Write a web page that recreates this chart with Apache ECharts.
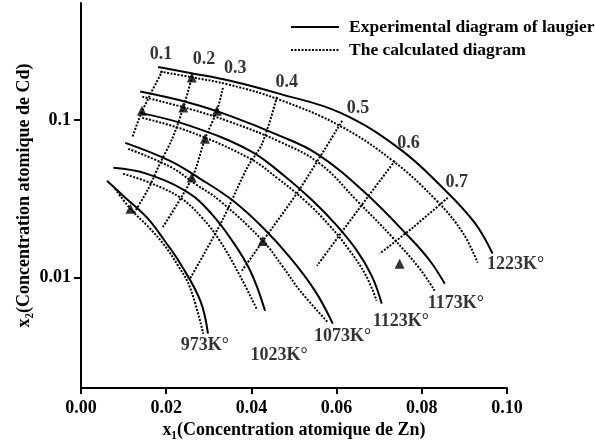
<!DOCTYPE html>
<html><head><meta charset="utf-8">
<script src="https://cdn.jsdelivr.net/npm/echarts@6/dist/echarts.min.js"></script>
<style>html,body{margin:0;padding:0;background:#fff}#c{width:595px;height:446px}</style>
</head><body><div id="c"></div>
<script>
// ---- axis ticks ----
const xTicks = [0, 0.02, 0.04, 0.06, 0.08, 0.10];
const yTicks = [0.01, 0.1];

// ---- isotherms: experimental (solid) curves [x1, x2] ----
const exp973  = [[0.0061,0.0411],[0.0104,0.0321],[0.0155,0.0240],[0.0198,0.0169],[0.0233,0.0123],[0.0280,0.00715],[0.0298,0.00442]];
const exp1023 = [[0.0076,0.0497],[0.0155,0.0455],[0.0256,0.0340],[0.0308,0.0251],[0.0350,0.0179],[0.0397,0.0111],[0.0432,0.00618]];
const exp1073 = [[0.0104,0.0715],[0.0209,0.0550],[0.0280,0.0423],[0.0357,0.0307],[0.0425,0.0210],[0.0491,0.0134],[0.0549,0.00828],[0.0591,0.00512]];
const exp1123 = [[0.0139,0.1107],[0.0256,0.0916],[0.0397,0.0637],[0.0474,0.0449],[0.0544,0.0307],[0.0599,0.0216],[0.0648,0.0148],[0.0683,0.0102],[0.0706,0.00685]];
const exp1173 = [[0.0139,0.151],[0.0256,0.128],[0.0350,0.106],[0.0467,0.0792],[0.0554,0.0609],[0.0662,0.0355],[0.0772,0.0179],[0.0819,0.0128],[0.0854,0.00916]];
const exp1223 = [[0.0181,0.216],[0.0256,0.198],[0.0350,0.177],[0.0467,0.146],[0.0608,0.111],[0.0748,0.0655],[0.0849,0.0371],[0.0924,0.0223],[0.0966,0.0142]];

// ---- isotherms: calculated (dotted) curves ----
const calc973  = [[0.0080,0.0366],[0.0116,0.0273],[0.0158,0.0210],[0.0193,0.0164],[0.0228,0.0119],[0.0256,0.00865],[0.0287,0.00442]];
const calc1023 = [[0.0099,0.0455],[0.0162,0.0399],[0.0233,0.0321],[0.0284,0.0240],[0.0326,0.0171],[0.0373,0.0103],[0.0412,0.00637]];
const calc1073 = [[0.0111,0.0655],[0.0209,0.0505],[0.0268,0.0393],[0.0326,0.0307],[0.0427,0.0171],[0.0474,0.0117],[0.0514,0.00828],[0.0580,0.0052]];
const calc1123 = [[0.0144,0.103],[0.0256,0.084],[0.0397,0.0567],[0.0463,0.0423],[0.0526,0.0307],[0.0584,0.0213],[0.0631,0.0148],[0.0669,0.0103],[0.0694,0.00715]];
const calc1173 = [[0.0144,0.140],[0.0256,0.117],[0.0350,0.0971],[0.0467,0.0726],[0.0561,0.0527],[0.0648,0.0307],[0.0732,0.0179],[0.0795,0.0114],[0.0830,0.00828]];
const calc1223 = [[0.0186,0.202],[0.0256,0.187],[0.0350,0.1665],[0.0467,0.1338],[0.0608,0.0916],[0.0732,0.055],[0.0835,0.0307],[0.0896,0.0193],[0.0931,0.01245]];

// ---- iso-lines 0.1 ... 0.7 (dotted) ----
const iso01 = [[0.0191,0.2042],[0.0144,0.114],[0.0120,0.0769]];
const iso02 = [[0.0263,0.198],[0.0240,0.119],[0.0214,0.0758],[0.0186,0.0534],[0.0158,0.0366],[0.0125,0.0258]];
const iso03 = [[0.0333,0.1594],[0.0319,0.114],[0.0291,0.0758],[0.0261,0.043],[0.0191,0.0207]];
const iso04 = [[0.0460,0.1398],[0.0425,0.0705],[0.0390,0.0497],[0.0331,0.0229],[0.0256,0.00986]];
const iso05 = [[0.0613,0.0986],[0.0514,0.0366],[0.0444,0.0198],[0.0427,0.0171],[0.0378,0.01107]];
const iso06 = [[0.0737,0.055],[0.0654,0.0277],[0.0554,0.0119]];
const iso07 = [[0.0861,0.0321],[0.0781,0.0210],[0.0701,0.0142]];

// ---- measured points (triangles) ----
const points = [[0.0260,0.1852],[0.0240,0.1196],[0.0143,0.114],[0.0319,0.114],[0.0291,0.0758],[0.0260,0.0431],[0.0116,0.0273],[0.0427,0.0171],[0.0748,0.01227]];

// ---- annotation texts and their anchors (data units) ----
const isoNames = ['0.1','0.2','0.3','0.4','0.5','0.6','0.7'];
const isoLabelAt = [[0.0188,0.2617],[0.0289,0.2433],[0.0362,0.2133],[0.0483,0.1738],[0.0650,0.1191],[0.0769,0.0710],[0.0882,0.0399]];
const tempNames = ['973K°','1023K°','1073K°','1123K°','1173K°','1223K°'];
const tempLabelAt = [[0.0291,0.00374],[0.0465,0.00323],[0.0614,0.00426],[0.0751,0.00530],[0.0880,0.00685],[0.1020,0.0121]];

const EXP = 'Experimental diagram of laugier';
const CALC = 'The calculated diagram';

const FONT = '"Liberation Serif","Times New Roman",serif';
const txt = {fontFamily: FONT, fontSize: 18, fontWeight: 'bold', color: '#000'};
const solidStyle = {color: '#000', width: 2, type: 'solid'};
const dotStyle = {color: '#000', width: 2, type: [2, 1.5]};

const series = [];
[calc973, calc1023, calc1073, calc1123, calc1173, calc1223].forEach(d => series.push({
  type: 'line', name: CALC, data: d, symbol: 'none', smooth: 0.4, lineStyle: dotStyle, itemStyle: {color: '#000'}, silent: true, z: 2
}));
[iso01, iso02, iso03, iso04, iso05, iso06, iso07].forEach(d => series.push({
  type: 'line', name: CALC, data: d, symbol: 'none', smooth: 0.3, lineStyle: dotStyle, itemStyle: {color: '#000'}, silent: true, z: 2
}));
[exp973, exp1023, exp1073, exp1123, exp1173, exp1223].forEach(d => series.push({
  type: 'line', name: EXP, data: d, symbol: 'none', smooth: 0.4, lineStyle: solidStyle, itemStyle: {color: '#000'}, silent: true, z: 3
}));
series.push({
  type: 'scatter', name: 'points', data: points, symbol: 'triangle', symbolSize: 10,
  itemStyle: {color: '#000'}, silent: true, z: 4
});
series.push({
  type: 'scatter', name: 'isoLabels', clip: false, symbolSize: 1, itemStyle: {color: 'rgba(0,0,0,0)'},
  data: isoLabelAt.map((p, i) => ({value: p, name: isoNames[i]})),
  label: Object.assign({show: true, position: 'inside', formatter: '{b}'}, txt), silent: true, z: 5
});
series.push({
  type: 'scatter', name: 'tempLabels', clip: false, symbolSize: 1, itemStyle: {color: 'rgba(0,0,0,0)'},
  data: tempLabelAt.map((p, i) => ({value: p, name: tempNames[i]})),
  label: Object.assign({show: true, position: 'inside', formatter: '{b}'}, txt), silent: true, z: 5
});

const chart = echarts.init(document.getElementById('c'));
chart.setOption({
  animation: false,
  backgroundColor: '#fff',
  grid: {left: 81, right: 88, top: 3, bottom: 58, containLabel: false, outerBoundsMode: 'none'},
  legend: {
    data: [EXP, CALC], orient: 'vertical', left: 285, top: 13, itemWidth: 48, itemHeight: 14, itemGap: 5,
    itemStyle: {color: 'rgba(0,0,0,0)', borderColor: 'rgba(0,0,0,0)', borderWidth: 0, opacity: 0},
    textStyle: Object.assign({}, txt, {fontSize: 17.5, padding: [0, 0, 0, 5]}), selectedMode: false
  },
  xAxis: {
    type: 'value', min: xTicks[0], max: xTicks[xTicks.length - 1], interval: 0.02,
    name: 'x\u2081(Concentration atomique de Zn)', nameLocation: 'middle', nameGap: 33, nameMoveOverlap: false,
    nameTextStyle: txt,
    axisLine: {show: true, onZero: false, lineStyle: {color: '#000', width: 2}},
    axisTick: {show: true, length: 6, lineStyle: {color: '#000', width: 2}},
    axisLabel: Object.assign({margin: 11, formatter: v => v.toFixed(2)}, txt),
    splitLine: {show: false}
  },
  yAxis: {
    type: 'log', logBase: 10, min: 0.002, max: 0.55,
    name: 'x\u2082(Concentration atomique de Cd)', nameLocation: 'middle', nameGap: 48, nameRotate: 90, nameMoveOverlap: false,
    nameTextStyle: txt,
    axisLine: {show: true, onZero: false, lineStyle: {color: '#000', width: 2}},
    axisTick: {show: true, length: 7, customValues: yTicks, lineStyle: {color: '#000', width: 2}},
    axisLabel: Object.assign({margin: 10, customValues: yTicks, formatter: v => String(+(+v).toPrecision(3))}, txt),
    splitLine: {show: false}, minorTick: {show: false}, minorSplitLine: {show: false}
  },
  series: series
});
</script></body></html>
